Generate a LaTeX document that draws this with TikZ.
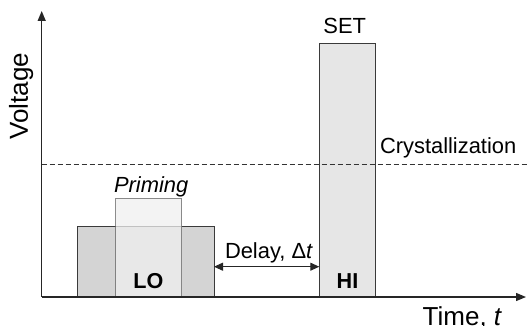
\documentclass[tikz,border=0pt]{standalone}
\usepackage{fontspec}
\setmainfont{Liberation Sans}
\usetikzlibrary{arrows.meta}
\definecolor{lofill}{HTML}{D4D4D4}
\definecolor{hifill}{HTML}{E6E6E6}
\definecolor{primfill}{HTML}{EFEFEF}
\definecolor{edge}{HTML}{3A3A3A}
\tikzset{
  pulse/.style={draw=edge, line width=1pt, inner sep=0pt, outer sep=0pt, anchor=south west},
  lbl/.style={inner sep=0pt, outer sep=0pt, font=\fontsize{21.9}{24}\selectfont},
  boldlbl/.style={inner sep=0pt, outer sep=0pt, font=\fontsize{21.6}{24}\selectfont\bfseries},
  biglbl/.style={inner sep=0pt, outer sep=0pt, font=\fontsize{26}{30}\selectfont},
  axis/.style={line width=1.3pt, draw=black!85, -{Triangle[length=10pt,width=8pt]}}
}
\begin{document}
\begin{tikzpicture}[x=1pt,y=-1pt]
\useasboundingbox (0,0) rectangle (527,326);
% coordinates
\coordinate (o) at (41.7,297);
\coordinate (ytop) at (41.7,11);
\coordinate (xend) at (526,297);
\coordinate (dl) at (0,266.7);
\coordinate (cl) at (41.7,164.3);
\coordinate (cr) at (527,164.3);
% pulses
\node[pulse, fill=lofill, minimum width=136.7pt, minimum height=70.3pt] (lo) at (77.3,297) {};
\node[pulse, fill=primfill, opacity=0.75, draw=gray!80!black, minimum width=66pt, minimum height=98.7pt] (prim) at (115.7,297) {};
\node[pulse, fill=hifill, minimum width=56.4pt, minimum height=253pt] (hi) at (319.3,297) {};
% crystallization threshold
\draw[line width=0.9pt, black!80, dash pattern=on 5pt off 3pt] (cl) -- (cr);
% axes
\draw[axis] (o) -- (ytop);
\draw[axis] (o) -- (xend);
% delay arrow
\draw[line width=1pt, black!85, {Triangle[length=9pt,width=8pt]}-{Triangle[length=9pt,width=8pt]}] (lo.south east |- dl) -- (hi.south west |- dl);
% labels
\node[biglbl, rotate=90, anchor=base] (volt) at (27.9,96) {Voltage};
\node[biglbl, anchor=base west] (time) at (422.7,325) {Time, \textit{t}};
\node[lbl, anchor=base] (set) at (344.7,34) {SET};
\node[lbl, anchor=base west] (cry) at (380,153.3) {Crystallization};
\node[lbl, anchor=base west] (primlbl) at (114,192) {\textit{Priming}};
\node[boldlbl, anchor=base] (lolbl) at (148.3,288.3) {LO};
\node[boldlbl, anchor=base] (hilbl) at (347.5,288.3) {HI};
\node[lbl, anchor=base west] (delay) at (225,258.3) {Delay, Δ\textit{t}};
\end{tikzpicture}
\end{document}
